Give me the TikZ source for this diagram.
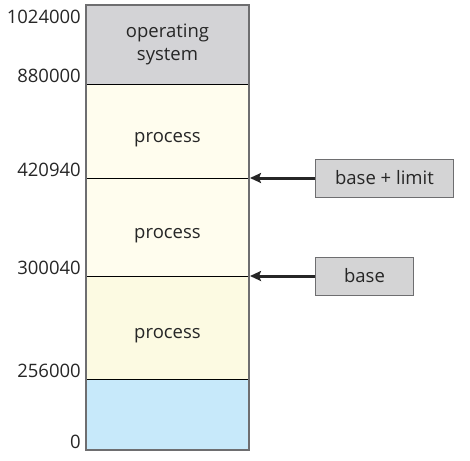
\documentclass[tikz,border=0pt]{standalone}
\usepackage{fontspec}
\setmainfont{Open Sans}
\usetikzlibrary{positioning,arrows.meta}
\definecolor{osgray}{RGB}{211,211,214}
\definecolor{procyellow}{RGB}{255,253,238}
\definecolor{procyellowb}{RGB}{252,250,226}
\definecolor{freeblue}{RGB}{199,233,250}
\definecolor{boxgray}{RGB}{212,212,213}
\definecolor{edgegray}{RGB}{110,110,112}
\begin{document}
\begin{tikzpicture}[
        x=1pt, y=1pt,
        font=\fontsize{18.5}{23}\selectfont,
        region/.style={rectangle, draw=black, line width=0.6pt, minimum width=163pt, inner sep=0pt, outer sep=0pt, text=black!85},
        proc/.style={region, text height=22pt, text depth=0pt},
        addr/.style={anchor=south east, inner sep=0pt, xshift=-5pt, yshift=1pt, text=black!85},
        regbox/.style={rectangle, draw=edgegray, line width=1pt, fill=boxgray, minimum height=38pt, inner sep=0pt, text=black!85},
        arrow/.style={-{Stealth[length=11pt,width=10pt,inset=2pt]}, line width=3pt, black!85, shorten >=1pt}
    ]
    \useasboundingbox (0,0) rectangle (470,-460);
    % Memory
    \node[region, fill=osgray, minimum height=79pt, anchor=north west] (os) at (86,-5) {\shortstack{operating\\[3pt]system}};
    \node[proc, fill=procyellow, minimum height=94pt, below=0pt of os] (p1) {process};
    \node[proc, fill=procyellow, minimum height=98pt, below=0pt of p1] (p2) {process};
    \node[proc, fill=procyellowb, minimum height=103pt, below=0pt of p2] (p3) {process};
    \node[region, fill=freeblue, minimum height=71pt, below=0pt of p3] (free) {};
    \draw[edgegray, line width=1.2pt] (os.north west) rectangle (free.south east);

    % Addresses
    \node[addr, anchor=north east, yshift=-6pt] at (os.north west) {1024000};
    \node[addr] at (os.south west) {880000};
    \node[addr] at (p1.south west) {420940};
    \node[addr] at (p2.south west) {300040};
    \node[addr] at (p3.south west) {256000};
    \node[addr] at (free.south west) {0};

    % Registers
    \node[regbox, minimum width=138pt, right=66pt of p1.south east, anchor=west] (limit) {base + limit};
    \node[regbox, minimum width=98pt, right=66pt of p2.south east, anchor=west] (base) {base};
    \draw[arrow] (limit) -- (p1.south east);
    \draw[arrow] (base) -- (p2.south east);
\end{tikzpicture}
\end{document}
